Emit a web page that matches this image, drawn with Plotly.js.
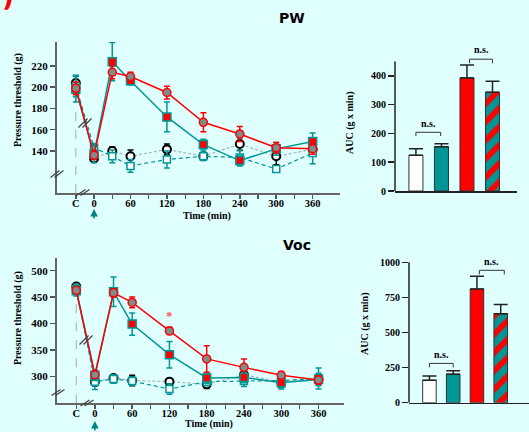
<!DOCTYPE html>
<html>
<head>
<meta charset="utf-8">
<script src="https://cdn.plot.ly/plotly-3.0.1.min.js"></script>
<style>html,body{margin:0;padding:0;background:#e0ffff;}#chart{width:529px;height:432px;}</style>
</head>
<body>
<div id="chart"></div>
<script>
// ---------- data ----------
const time = [-30, 0, 30, 60, 120, 180, 240, 300, 360];
const xTickVals = [-30, 0, 60, 120, 180, 240, 300, 360];
const xTickText = ['C', '0', '60', '120', '180', '240', '300', '360'];
const xMinorVals = [30, 90, 150, 210, 270, 330];

// PW panel
const pwRed = [199, 136, 214, 210, 195, 167, 156, 143, 142];
const pwRedErr = [6, 4, 6, 4, 6, 9, 7, 5, 5];
const pwTeal = [198, 137, 224, 206, 172, 146, 131, 142, 149];
const pwTealErr = [12, 8, 18, 4, 14, 5, 5, 6, 8];
const pwCtl = [204, 133, 140, 135, 141.5, 135, 146.5, 135, 141.5];
const pwCtlErr = [7, 3, 4, 6, 5, 3, 6, 8, 6];
const pwCtl2 = [201, 143, 135, 126, 132, 135, 134, 123, 138];
const pwCtl2Err = [10, 4, 6, 6, 8, 4, 7, 3, 10];

// Voc panel
const vocRed = [463, 303, 458, 440, 386, 333, 317, 302, 293];
const vocRedErr = [5, 6, 8, 10, 7, 25, 16, 7, 8];
const vocTeal = [462, 302, 460, 399, 341, 297, 298, 288, 294];
const vocTealErr = [10, 10, 28, 21, 25, 10, 10, 12, 12];
const vocCtl = [470, 290, 297, 292, 290, 285, 303, 289, 295];
const vocCtlErr = [6, 8, 6, 10, 4, 8, 8, 10, 8];
const vocCtl2 = [465, 290, 295, 291, 276, 290, 291, 292, 296];
const vocCtl2Err = [10, 15, 8, 8, 10, 8, 10, 12, 20];

// AUC bars (order: white, teal, red, hatched)
const barPos = [0, 1, 2, 3];
const pwAUC = [124, 154, 393, 343];
const pwAUCErr = [23, 10, 45, 38];
const vocAUC = [160, 203, 810, 633];
const vocAUCErr = [30, 25, 90, 67];

// ---------- styles ----------
const RED = '#ff0000', TEAL = '#009696', GREY = '#a8b4b4', BG = '#e0ffff';
const serif = 'Liberation Serif, Times New Roman, serif';
const tickFont = {family: serif, size: 11, color: '#000', weight: 'bold'};

function series(x, y, err, xa, ya, opts) {
  return {
    x: x, y: y, xaxis: xa, yaxis: ya, type: 'scatter', mode: 'lines+markers',
    line: {color: opts.lc, width: opts.lw || 1.5, dash: opts.dash || 'solid'},
    marker: {symbol: opts.sym, size: opts.ms || 8, color: opts.fill, line: {color: opts.mlc, width: opts.mlw || 1.5}},
    error_y: {type: 'data', array: err, visible: true, color: opts.ec, thickness: 1.5, width: 3},
    showlegend: false, hoverinfo: 'skip', cliponaxis: false
  };
}

function panel(xa, ya, red, redE, teal, tealE, ctl, ctlE, ctl2, ctl2E) {
  return [
    series(time, ctl, ctlE, xa, ya, {lc: GREY, lw: 1.2, dash: '3px,2px', sym: 'circle', fill: '#fff', mlc: '#000', mlw: 2, ms: 8, ec: '#000'}),
    series(time, ctl2, ctl2E, xa, ya, {lc: TEAL, lw: 1.2, dash: '4px,3px', sym: 'square', fill: '#fff', mlc: TEAL, mlw: 1.5, ms: 7, ec: TEAL}),
    series(time, teal, tealE, xa, ya, {lc: TEAL, sym: 'square', fill: RED, mlc: TEAL, ec: TEAL}),
    series(time, red, redE, xa, ya, {lc: RED, sym: 'circle', fill: '#7f8c8c', mlc: RED, ec: RED})
  ];
}

function bars(vals, errs, xa, ya, w) {
  const plain = {
    x: barPos.slice(0, 3), y: vals.slice(0, 3), xaxis: xa, yaxis: ya, type: 'bar', width: w,
    marker: {color: ['#ffffff', TEAL, RED], line: {color: '#333', width: 1}},
    error_y: {type: 'data', array: errs.slice(0, 3), arrayminus: [0, 0, 0], visible: true, color: '#222', thickness: 1.5, width: 7},
    showlegend: false, hoverinfo: 'skip'
  };
  const hatched = {
    x: barPos.slice(3), y: vals.slice(3), xaxis: xa, yaxis: ya, type: 'bar', width: w,
    marker: {color: TEAL, line: {color: '#333', width: 1},
             pattern: {shape: '/', fgcolor: RED, bgcolor: TEAL, fgopacity: 1, fillmode: 'replace', size: 13, solidity: 0.45}},
    error_y: {type: 'data', array: errs.slice(3), arrayminus: [0], visible: true, color: '#222', thickness: 1.5, width: 7},
    showlegend: false, hoverinfo: 'skip'
  };
  return [plain, hatched];
}

const traces = [].concat(
  panel('x', 'y', pwRed, pwRedErr, pwTeal, pwTealErr, pwCtl, pwCtlErr, pwCtl2, pwCtl2Err),
  panel('x2', 'y2', vocRed, vocRedErr, vocTeal, vocTealErr, vocCtl, vocCtlErr, vocCtl2, vocCtl2Err),
  bars(pwAUC, pwAUCErr, 'x3', 'y3', 0.55), bars(vocAUC, vocAUCErr, 'x4', 'y4', 0.57)
);

const W = 529, H = 432;
const px = v => v / W, py = v => 1 - v / H;

function timeAxis(domain, range, anchor) {
  return {
    domain: domain, range: range, anchor: anchor,
    tickmode: 'array', tickvals: xTickVals, ticktext: xTickText,
    ticks: 'outside', ticklen: 4, tickwidth: 1.5, tickcolor: '#555', ticklabelstandoff: -5,
    minor: {tickmode: 'array', tickvals: xMinorVals, ticks: 'outside', ticklen: 4, tickwidth: 1.2, tickcolor: '#555'},
    showline: true, linecolor: '#666', linewidth: 2, showgrid: false, zeroline: false,
    tickfont: {family: serif, size: 10.5, color: '#000', weight: 'bold'}
  };
}
function valAxis(domain, range, anchor, tv) {
  return {
    domain: domain, range: range, anchor: anchor,
    tickmode: 'array', tickvals: tv,
    ticks: 'outside', ticklen: 5, tickwidth: 1.5, tickcolor: '#555',
    showline: true, linecolor: '#666', linewidth: 2, showgrid: false, zeroline: false,
    tickfont: tickFont
  };
}
const barTickFont = {family: serif, size: 10, color: '#000', weight: 'bold'};

const layout = {
  width: W, height: H,
  margin: {l: 0, r: 0, t: 0, b: 0},
  paper_bgcolor: BG, plot_bgcolor: BG,
  showlegend: false, barmode: 'overlay',
  xaxis: timeAxis([px(57), px(340)], [-61, 405], 'y'),
  yaxis: valAxis([py(193), py(42)], [100.5, 242.5], 'x', [140, 160, 180, 200, 220]),
  xaxis2: timeAxis([px(57), px(344)], [-61, 401], 'y2'),
  yaxis2: valAxis([py(403.3), py(258)], [249, 524], 'x2', [300, 350, 400, 450, 500]),
  xaxis3: {domain: [px(395), px(517)], range: [-0.82, 3.96], anchor: 'y3', showticklabels: false, ticks: '',
           showline: true, linecolor: '#222', linewidth: 1.5, showgrid: false, zeroline: false},
  yaxis3: {domain: [py(191), py(47.1)], range: [0, 500], anchor: 'x3', tickmode: 'array', tickvals: [0, 100, 200, 300, 400],
           ticks: 'outside', ticklen: 6, tickwidth: 1.5, tickcolor: '#222', showline: false, showgrid: false, zeroline: false,
           tickfont: barTickFont},
  xaxis4: {domain: [px(409), 1], range: [-0.86, 4.19], anchor: 'y4', showticklabels: false, ticks: '',
           showline: true, linecolor: '#222', linewidth: 1.5, showgrid: false, zeroline: false},
  yaxis4: {domain: [py(402.7), py(253.9)], range: [0, 1060], anchor: 'x4', tickmode: 'array', tickvals: [0, 250, 500, 750, 1000],
           ticks: 'outside', ticklen: 6, tickwidth: 1.5, tickcolor: '#222', showline: false,
           showgrid: false, zeroline: false, tickfont: barTickFont},
  shapes: [],
  annotations: []
};

// vertical dashed reference at C
layout.shapes.push({type: 'line', xref: 'x', yref: 'y', x0: -30, x1: -30, y0: 100.5, y1: pwRed[0], line: {color: '#aaa', width: 1, dash: 'dash'}, layer: 'below'});
layout.shapes.push({type: 'line', xref: 'x2', yref: 'y2', x0: -30, x1: -30, y0: 249, y1: vocRed[0], line: {color: '#aaa', width: 1, dash: 'dash'}, layer: 'below'});
// y axis lines for bar panels (up to top tick)
layout.shapes.push({type: 'line', xref: 'x3 domain', yref: 'y3', x0: 0, x1: 0, y0: 0, y1: 450, line: {color: '#222', width: 1.5}});
layout.shapes.push({type: 'line', xref: 'x4 domain', yref: 'y4', x0: 0, x1: 0, y0: 0, y1: 1000, line: {color: '#222', width: 1.5}});

// break marks "//"
function breakMark(cx, cy, hx, hy, col) {
  [-2, 2].forEach(d => {
    layout.shapes.push({type: 'line', xref: 'paper', yref: 'paper',
      x0: px(cx - hx + d), y0: py(cy + hy), x1: px(cx + hx + d), y1: py(cy - hy),
      line: {color: col || '#444', width: 1.3}});
  });
}
breakMark(57, 174, 4.5, 3.5);
breakMark(83, 192.5, 4.5, 3);
breakMark(85, 123, 4.5, 4.5);
breakMark(58, 392.5, 4.5, 3);
breakMark(87, 403, 4.5, 3);
breakMark(86, 340, 4.5, 4.5);

// n.s. brackets
function bracket(xa, ya, x0, x1, yTop, yLeg, textY) {
  layout.shapes.push({type: 'path', xref: xa, yref: ya,
    path: `M ${x0},${yLeg} L ${x0},${yTop} L ${x1},${yTop} L ${x1},${yLeg}`,
    line: {color: '#333', width: 1}});
  layout.annotations.push({xref: xa, yref: ya, x: (x0 + x1) / 2, y: textY, text: 'n.s.', showarrow: false,
    xanchor: 'center', yanchor: 'middle',
    font: {family: serif, size: 10, color: '#000', weight: 'bold'}});
}
bracket('x3', 'y3', 0, 0.97, 204, 191, 236);
bracket('x3', 'y3', 2.1, 3.0, 458, 444, 490);
bracket('x4', 'y4', 0, 1.0, 280, 252, 345);
bracket('x4', 'y4', 2.1, 3.15, 943, 914, 1008);

// titles and axis titles (all centred explicitly)
const ann = layout.annotations;
function label(xp, yp, text, font, angle) {
  ann.push({xref: 'paper', yref: 'paper', x: px(xp), y: py(yp), text: text, showarrow: false,
    xanchor: 'center', yanchor: 'middle', textangle: angle || 0, font: font});
}
const tFont = {family: 'DejaVu Sans, Verdana, sans-serif', size: 14, color: '#000', weight: 'bold'};
const aFont = {family: serif, size: 10, color: '#000', weight: 'bold'};
label(292, 18, 'PW', tFont);
label(297, 245, 'Voc', tFont);
label(18, 100, 'Pressure threshold (g)', aFont, -90);
label(18, 318, 'Pressure threshold (g)', aFont, -90);
label(207, 216, 'Time (min)', aFont);
label(209, 424, 'Time (min)', aFont);
label(350, 123, 'AUC (g x min)', aFont, -90);
label(365, 324, 'AUC (g x min)', aFont, -90);
label(8, -3, ')', {family: 'DejaVu Sans', size: 26, color: RED, weight: 'bold'});
// asterisk
ann.push({xref: 'x2', yref: 'y2', x: 120, y: 416, text: '*', showarrow: false, xanchor: 'center', yanchor: 'middle',
  font: {family: serif, size: 13, color: '#ff5050', weight: 'bold'}});
// injection arrows
ann.push({xref: 'x', yref: 'paper', x: 0, y: py(209), text: '', showarrow: true, arrowhead: 2, arrowsize: 1, arrowwidth: 1.5, arrowcolor: '#008080', ax: 0, ay: 11});
ann.push({xref: 'x2', yref: 'paper', x: 0, y: py(421), text: '', showarrow: true, arrowhead: 2, arrowsize: 1, arrowwidth: 1.5, arrowcolor: '#008080', ax: 0, ay: 11});

Plotly.newPlot('chart', traces, layout, {staticPlot: true, displayModeBar: false});
</script>
</body>
</html>
